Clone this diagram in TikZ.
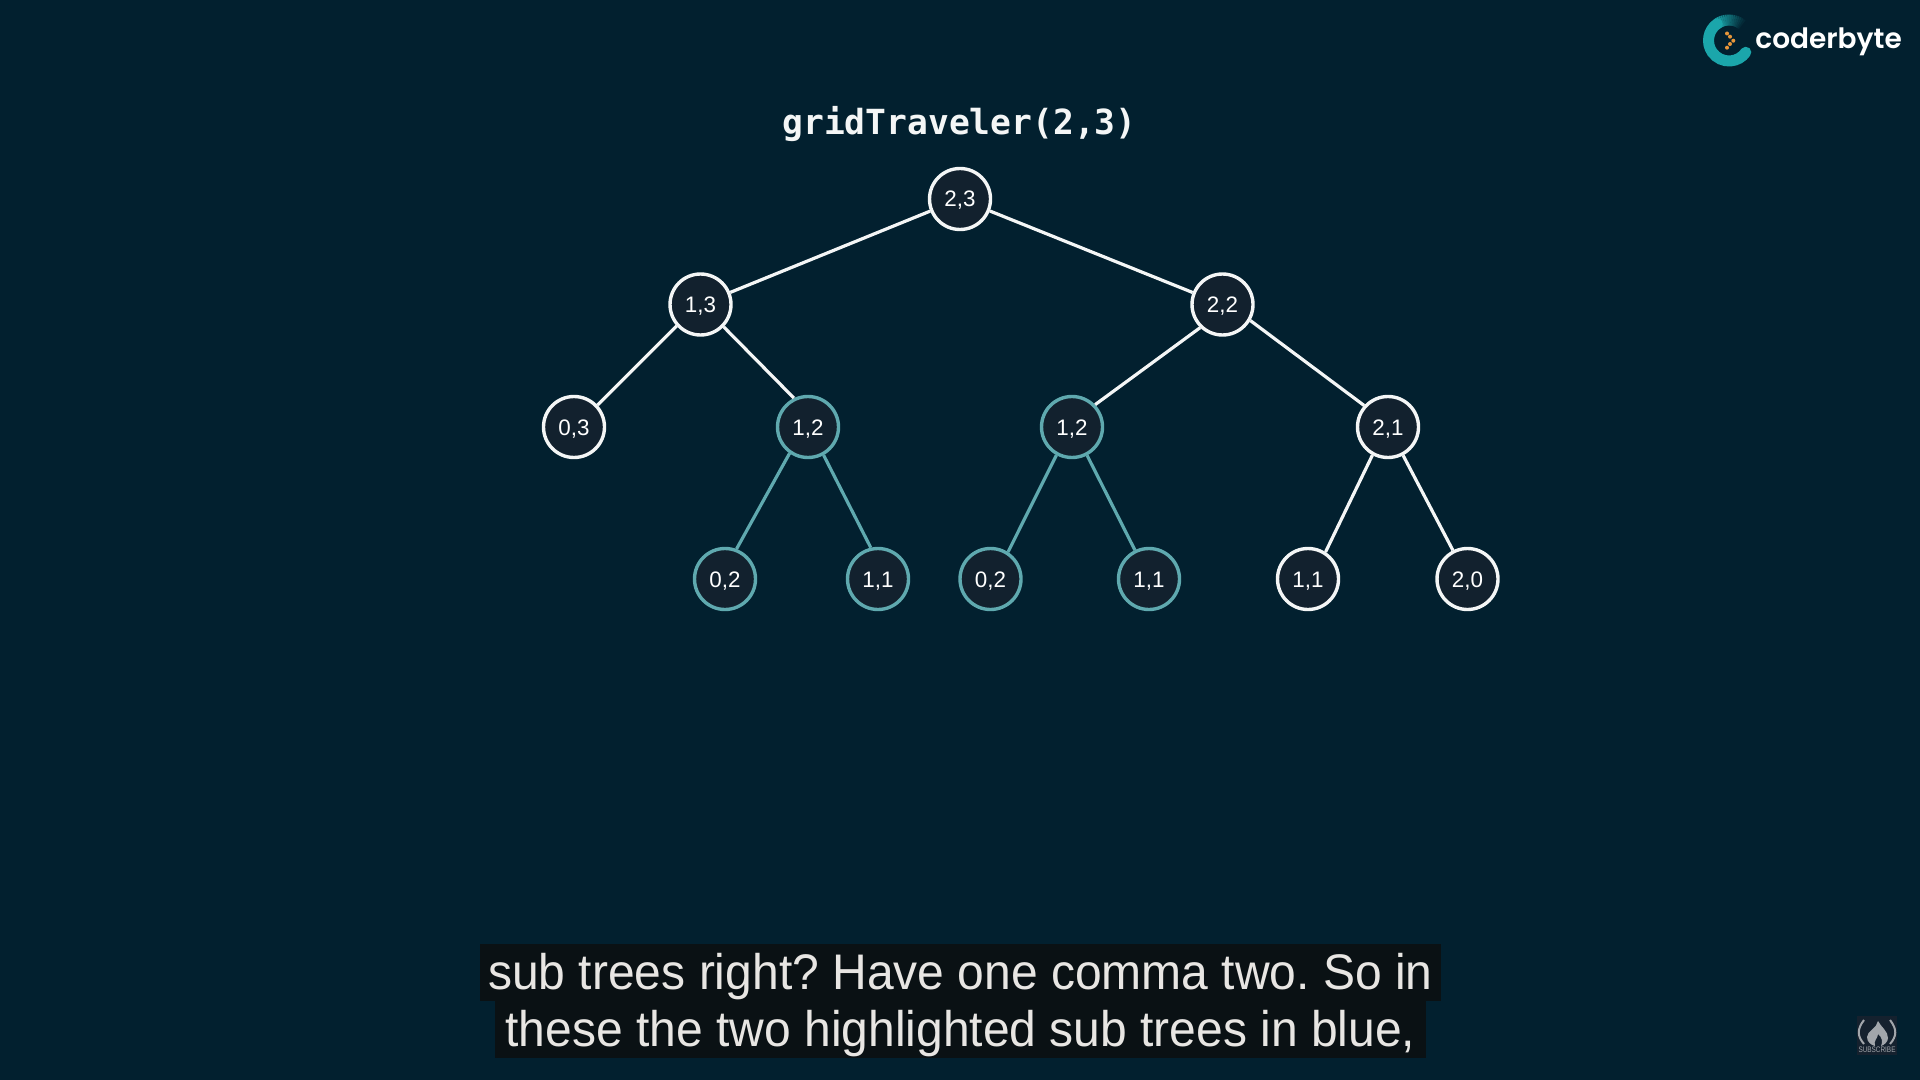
\documentclass[tikz,border=0pt]{standalone}
\usepackage{fontspec}
\setmainfont{Liberation Sans}
\newfontfamily\titlefont{DejaVu Sans Mono}
\newfontfamily\capfont[FakeStretch=0.96]{Liberation Sans}
\newfontfamily\logofont{Poppins SemiBold}
\newfontfamily\subfont[FakeStretch=0.8]{Liberation Sans}
\definecolor{bgc}{HTML}{02202F}
\definecolor{nodefill}{HTML}{12212E}
\definecolor{tealc}{HTML}{5FA9AF}
\definecolor{nodew}{HTML}{F4F6F6}
\definecolor{capbg}{HTML}{0A1114}
\definecolor{captx}{HTML}{E8E6E3}
\definecolor{logoc}{HTML}{1BA6AB}
\definecolor{dotc}{HTML}{E8963A}
\definecolor{subc}{HTML}{A2A6AB}
\definecolor{subbg}{HTML}{15212E}
\tikzset{
  tn/.style={circle,draw=nodew,fill=nodefill,line width=1.7pt,minimum size=30.5pt,inner sep=0pt,text=white,font=\fontsize{11.2}{13}\selectfont,text height=8pt,text depth=0pt},
  bn/.style={tn,draw=tealc},
  wl/.style={draw=nodew,line width=1.6pt},
  bl/.style={draw=tealc,line width=1.6pt},
  capbox/.style={fill=capbg,inner sep=0pt,text=captx,font=\capfont\frenchspacing\fontsize{25}{29}\selectfont,text height=21pt,text depth=4.5pt},
}
\begin{document}
\begin{tikzpicture}[x=0.5pt,y=-0.5pt]
\fill[bgc] (0,0) rectangle (1920,1080);
\useasboundingbox (0,0) rectangle (1920,1080);
\node[font=\titlefont\bfseries\fontsize{17.3}{20}\selectfont,text=nodew,inner sep=0pt] (title) at (959.5,124.5) {gridTraveler(2,3)};
\node[tn] (a) at (960,199) {2,3};
\node[tn] (b) at (700.5,304.5) {1,3};
\node[tn] (c) at (1222.5,304.5) {2,2};
\node[tn] (d) at (574,427) {0,3};
\node[bn] (e) at (808,427) {1,2};
\node[bn] (f) at (1072,427) {1,2};
\node[tn] (g) at (1388,427) {2,1};
\node[bn] (h) at (725,579) {0,2};
\node[bn] (i) at (878,579) {1,1};
\node[bn] (j) at (990.5,579) {0,2};
\node[bn] (k) at (1149,579) {1,1};
\node[tn] (l) at (1308,579) {1,1};
\node[tn] (m) at (1467.5,579) {2,0};
\draw[wl] (a)--(b);
\draw[wl] (a)--(c);
\draw[wl] (b.222)--(d.43);
\draw[wl] (b.-44)--(e.116);
\draw[wl] (c.226)--(f.44.6);
\draw[wl] (c.-30)--(g.138);
\draw[bl] (e.235)--(h.69);
\draw[bl] (e.-61.3)--(i.103);
\draw[bl] (f.241.9)--(j.57.7);
\draw[bl] (f.-62.4)--(k.116.3);
\draw[wl] (g.241.9)--(l.57.6);
\draw[wl] (g.-62.4)--(m.117.9);
% caption
\node[capbox,minimum width=480.5pt,minimum height=28.5pt] (cap1) at (960.5,972.5) {sub trees right? Have one comma two. So in};
\node[capbox,minimum width=465.5pt,minimum height=28.5pt] (cap2) at (960.5,1029.5) {these the two highlighted sub trees in blue,};
% logo
\foreach \a in {45,50,...,120}{
  \pgfmathsetmacro{\p}{min(100,(\a-45)/75*100)}
  \colorlet{segc}{logoc!\p!bgc}
  \draw[segc,line width=5.5pt] (1729,40.5) ++(\a:10.25pt) arc[start angle=\a,end angle=\a+5.5,radius=10.25pt];
}
\draw[logoc,line width=5.5pt,line cap=round] (1729,40.5) ++(125:10.25pt) arc[start angle=125,end angle=325,radius=10.25pt];
\foreach \x/\y in {1727/33.5,1730/36.7,1733.3/40.7,1730/44,1727/47.7}{
  \fill[dotc] (\x,\y) circle[radius=1pt];
}
\node[font=\logofont\fontsize{14}{18}\selectfont,text=white,anchor=base west,inner sep=0pt] (logo) at (1755,48.5) {coderbyte};
% subscribe badge
\node[fill=subbg,minimum width=20pt,minimum height=19.5pt,inner sep=0pt] (badge) at (1877,1035.5) {};
\draw[subc,line width=1pt] (1864,1020) .. controls (1857,1029) and (1857,1036) .. (1864,1044);
\draw[subc,line width=1pt] (1890,1020) .. controls (1897,1029) and (1897,1036) .. (1890,1044);
\fill[subc] (1878,1021) .. controls (1881,1027) and (1888,1031) .. (1888,1038) .. controls (1888,1042) and (1884,1045) .. (1881,1046) .. controls (1883,1042) and (1882,1037) .. (1878,1034) .. controls (1878,1038) and (1873,1041) .. (1875,1046) .. controls (1871,1045) and (1867,1042) .. (1867,1037) .. controls (1867,1031) and (1877,1028) .. (1878,1021) -- cycle;
\node[font=\subfont\fontsize{4}{5}\selectfont,text=subc,inner sep=0pt] (subs) at (1877,1049.5) {SUBSCRIBE};
\end{tikzpicture}
\end{document}
